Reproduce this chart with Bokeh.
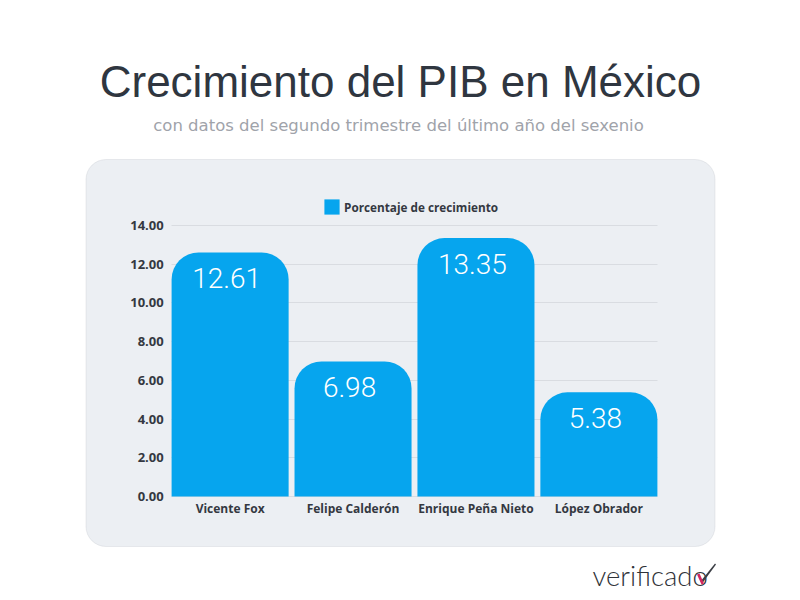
from bokeh.plotting import figure
from bokeh.core.properties import value
from bokeh.models import (BoxAnnotation, Label, LabelSet, ColumnDataSource, Legend, LegendItem,
                          NumeralTickFormatter, FixedTicker, PolyAnnotation, Range1d, FactorRange)
from bokeh.embed import file_html
from bokeh.resources import INLINE

presidents = ["Vicente Fox", "Felipe Calderón", "Enrique Peña Nieto", "López Obrador"]
growth = [12.61, 6.98, 13.35, 5.38]
value_labels = ["12.61", "6.98", "13.35", "5.38"]
y_ticks = [0, 2, 4, 6, 8, 10, 12, 14]
series_name = "Porcentaje de crecimiento"
title_text = "Crecimiento del PIB en México"
subtitle_text = "con datos del segundo trimestre del último año del sexenio"
logo_text = "verificado"

W, H = 800, 600
BAND_L, BAND_R = 168.1, 659.5   # pixel span of the four category bands
FL = 80
FR = BAND_L + BAND_R - FL       # frame symmetric about the bands
Y0, Y14 = 496, 225
def sx(x): return x - FL
def sy(y): return H - y

DARK = "#2f3640"
AXIS_TXT = "#343841"
BLUE = "#06a5ee"

per_factor = (BAND_R - BAND_L) / 4
per_unit = (Y0 - Y14) / 14
p = figure(width=W, height=H, output_backend="svg", toolbar_location=None,
           x_range=FactorRange(factors=presidents, factor_padding=0,
                               range_padding=(BAND_L - FL) / per_factor, range_padding_units="absolute"),
           y_range=Range1d(-(H - Y0) / per_unit, 14 + Y14 / per_unit),
           min_border_left=FL, min_border_right=round(W - FR), min_border_top=0, min_border_bottom=0,
           background_fill_color="#ffffff", border_fill_color="#ffffff",
           outline_line_color=None)

panel = BoxAnnotation(left=sx(85.5), right=sx(714.5), top=sy(159), bottom=sy(546),
                      left_units="screen", right_units="screen", top_units="screen", bottom_units="screen",
                      fill_color="#eceff3", fill_alpha=1, line_color="#bfc3cb", line_width=1,
                      border_radius=20, level="image", editable=False)
p.add_layout(panel)

source = ColumnDataSource(dict(name=presidents, value=growth, text=value_labels))
bars = p.vbar(x="name", top="value", bottom=0, width=0.952, source=source,
              fill_color=BLUE, line_color=None, border_radius=(27, 27, 0, 0))

p.add_layout(LabelSet(x="name", y="value", text="text", source=source, y_offset=-16, x_offset=-3.5,
                      text_align="center", text_baseline="top", text_color="#ffffff",
                      text_font=value("Roboto Light"), text_font_size="28px"))

p.xgrid.grid_line_color = None
p.ygrid.grid_line_color = "#d9dce1"
p.ygrid.grid_line_width = 1
p.ygrid.ticker = FixedTicker(ticks=y_ticks)
p.ygrid.cross_bounds = (0.024, 3.976)

p.yaxis.ticker = FixedTicker(ticks=y_ticks)
p.yaxis.formatter = NumeralTickFormatter(format="0.00")
p.yaxis.fixed_location = 0
p.xaxis.fixed_location = 0
for ax in (p.xaxis[0], p.yaxis[0]):
    ax.axis_line_color = None
    ax.major_tick_line_color = None
    ax.minor_tick_line_color = None
    ax.major_tick_in = 0
    ax.major_tick_out = 0
    ax.major_label_text_color = AXIS_TXT
    ax.major_label_text_font = "Open Sans"
    ax.major_label_text_font_style = "bold"
    ax.major_label_text_font_size = "12px"
p.yaxis.major_label_text_font_size = "13px"
p.yaxis.major_label_standoff = 5
p.xaxis.major_label_standoff = 3

legend = Legend(items=[LegendItem(label=series_name, renderers=[bars])],
                location=(sx(322), sy(216)), orientation="horizontal",
                background_fill_alpha=0, border_line_color=None,
                glyph_width=19, glyph_height=19, padding=0, margin=0, label_standoff=3,
                label_text_font="Open Sans", label_text_font_style="bold",
                label_text_font_size="11.75px", label_text_color=AXIS_TXT)
p.add_layout(legend, "center")

p.add_layout(Label(x=sx(400), y=sy(81), x_units="screen", y_units="screen", text=title_text,
                   text_align="center", text_baseline="middle", text_color=DARK,
                   text_font="Liberation Sans", text_font_size="44px"))
p.add_layout(Label(x=sx(398), y=sy(125), x_units="screen", y_units="screen", text=subtitle_text,
                   text_align="center", text_baseline="middle", text_color="#a0a3aa",
                   text_font="DejaVu Sans", text_font_size="16.5px"))
p.add_layout(Label(x=sx(592), y=sy(575), x_units="screen", y_units="screen", text=logo_text,
                   text_align="left", text_baseline="middle", text_color="#2f3238",
                   text_font="Lato Light", text_font_size="27.5px"))
p.add_layout(PolyAnnotation(xs=[sx(700), sx(702), sx(715.5), sx(714.5)], ys=[sy(581), sy(582.5), sy(564), sy(563)],
                            xs_units="screen", ys_units="screen", fill_color="#3a3d44", fill_alpha=1,
                            line_color=None, editable=False))
p.add_layout(PolyAnnotation(xs=[sx(696.5), sx(699), sx(703.5), sx(701)], ys=[sy(574), sy(573), sy(583), sy(584)],
                            xs_units="screen", ys_units="screen", fill_color="#d3265f", fill_alpha=1,
                            line_color=None, editable=False))

open("out.html", "w").write(file_html(p, INLINE))
